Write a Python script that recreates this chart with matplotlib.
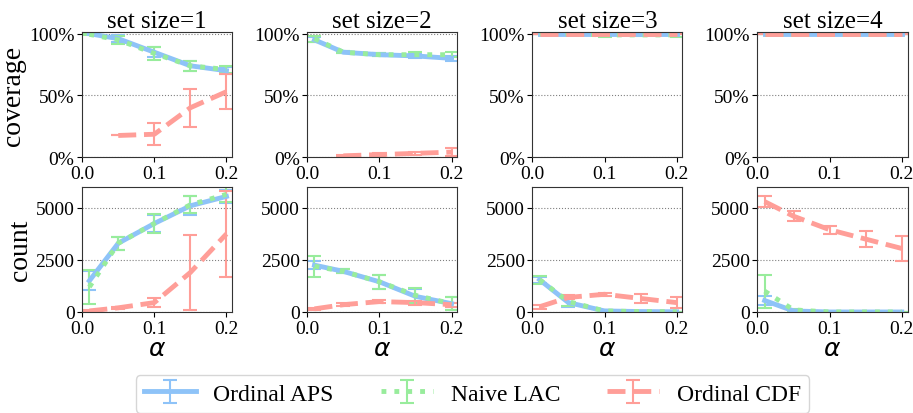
import numpy as np
import matplotlib
matplotlib.use("Agg")
import matplotlib.pyplot as plt
from matplotlib.ticker import PercentFormatter

plt.rcParams["font.family"] = ["Liberation Serif", "DejaVu Serif"]
plt.rcParams["mathtext.fontset"] = "dejavusans"

# alpha levels on the x axis
alphas = [0.01, 0.05, 0.1, 0.15, 0.2]
set_sizes = [1, 2, 3, 4]
methods = ["Ordinal APS", "Naive LAC", "Ordinal CDF"]
nan = np.nan

# coverage (fraction) per set size, per method
cov_aps = [[1.00, 0.96, 0.85, 0.74, 0.70],
           [0.95, 0.85, 0.83, 0.82, 0.80],
           [1.00, 1.00, 1.00, 1.00, 1.00],
           [1.00, 1.00, 1.00, 1.00, 1.00]]
cov_aps_err = [[0.005, 0.03, 0.04, 0.04, 0.03],
               [0.02, 0.01, 0.01, 0.02, 0.02],
               [0.0, 0.0, 0.005, 0.005, 0.005],
               [0.0, 0.0, 0.0, 0.0, 0.0]]
cov_lac = [[0.995, 0.95, 0.84, 0.74, 0.71],
           [0.96, 0.85, 0.83, 0.83, 0.83],
           [1.00, 1.00, 0.99, 0.99, 0.99],
           [1.00, 1.00, 1.00, 1.00, 1.00]]
cov_lac_err = [[0.005, 0.03, 0.05, 0.04, 0.03],
               [0.025, 0.01, 0.01, 0.02, 0.02],
               [0.0, 0.005, 0.015, 0.01, 0.015],
               [0.0, 0.0, 0.0, 0.0, 0.0]]
cov_cdf = [[nan, 0.175, 0.185, 0.40, 0.53],
           [nan, 0.01, 0.02, 0.03, 0.04],
           [1.00, 1.00, 1.00, 1.00, 1.00],
           [1.00, 1.00, 1.00, 1.00, 1.00]]
cov_cdf_err = [[nan, 0.0, 0.09, 0.155, 0.14],
               [nan, 0.005, 0.01, 0.015, 0.03],
               [0.0, 0.0, 0.0, 0.0, 0.0],
               [0.0, 0.0, 0.0, 0.0, 0.0]]

# counts per set size, per method
cnt_aps = [[1500, 3300, 4250, 5100, 5550],
           [2250, 1950, 1450, 750, 400],
           [1550, 450, 50, 20, 10],
           [550, 50, 0, 0, 0]]
cnt_aps_err = [[450, 300, 400, 450, 300],
               [200, 100, 350, 350, 300],
               [150, 200, 30, 20, 10],
               [200, 30, 0, 0, 0]]
cnt_lac = [[1200, 3300, 4250, 5150, 5650],
           [2200, 1950, 1450, 800, 400],
           [1550, 500, 50, 20, 10],
           [1000, 100, 0, 0, 0]]
cnt_lac_err = [[800, 300, 450, 400, 350],
               [500, 100, 350, 350, 300],
               [200, 200, 30, 20, 10],
               [800, 50, 0, 0, 0]]
cnt_cdf = [[50, 200, 450, 1900, 3750],
           [150, 350, 500, 450, 350],
           [250, 700, 850, 650, 450],
           [5300, 4600, 3950, 3500, 3050]]
cnt_cdf_err = [[30, 60, 200, 1800, 2050],
               [50, 80, 80, 100, 100],
               [100, 100, 80, 200, 250],
               [250, 250, 200, 400, 600]]

colors = ["#8ec3f8", "#98ec9c", "#ff9e98"]
styles = ["-", ":", "--"]

fig, axes = plt.subplots(2, 4, figsize=(9.13, 4.14), dpi=100)
fig.subplots_adjust(left=0.09, right=0.994, top=0.92, bottom=0.244,
                    wspace=0.5, hspace=0.24)

cov_data = [(cov_aps, cov_aps_err), (cov_lac, cov_lac_err), (cov_cdf, cov_cdf_err)]
cnt_data = [(cnt_aps, cnt_aps_err), (cnt_lac, cnt_lac_err), (cnt_cdf, cnt_cdf_err)]

handles = []
for j, s in enumerate(set_sizes):
    for row, data in enumerate([cov_data, cnt_data]):
        ax = axes[row, j]
        for k, (vals, errs) in enumerate(data):
            h = ax.errorbar(alphas, vals[j], yerr=errs[j], color=colors[k],
                            ls=styles[k], lw=3.5, elinewidth=1.5, capsize=5,
                            capthick=1.5, label=methods[k])
            if row == 0 and j == 0:
                handles.append(h)
        ax.set_xlim(0, 0.208)
        ax.set_xticks([0.0, 0.1, 0.2])
        ax.grid(axis="y", ls=":", color="gray", lw=0.8)
        ax.tick_params(labelsize=14, pad=2)
        for sp in ax.spines.values():
            sp.set_color("#333333")
        if row == 0:
            ax.set_ylim(0, 1.013)
            ax.set_yticks([0, 0.5, 1.0])
            ax.yaxis.set_major_formatter(PercentFormatter(1.0, decimals=0))
            ax.set_title(f"set size={s}", fontsize=18, pad=4)
        else:
            ax.set_ylim(0, 6000)
            ax.set_yticks([0, 2500, 5000])
            ax.set_xlabel(r"$\alpha$", fontsize=18, labelpad=1)

axes[0, 0].set_ylabel("coverage", fontsize=20, labelpad=2)
axes[1, 0].set_ylabel("count", fontsize=20, labelpad=2)

fig.legend(handles=handles, loc="upper center", bbox_to_anchor=(0.5175, 0.092),
           borderaxespad=0, borderpad=0.35, ncol=3, fontsize=17,
           handlelength=2.2, handletextpad=0.75, columnspacing=2.0,
           frameon=True, edgecolor="#cccccc")

plt.savefig("out.png", dpi=100)
